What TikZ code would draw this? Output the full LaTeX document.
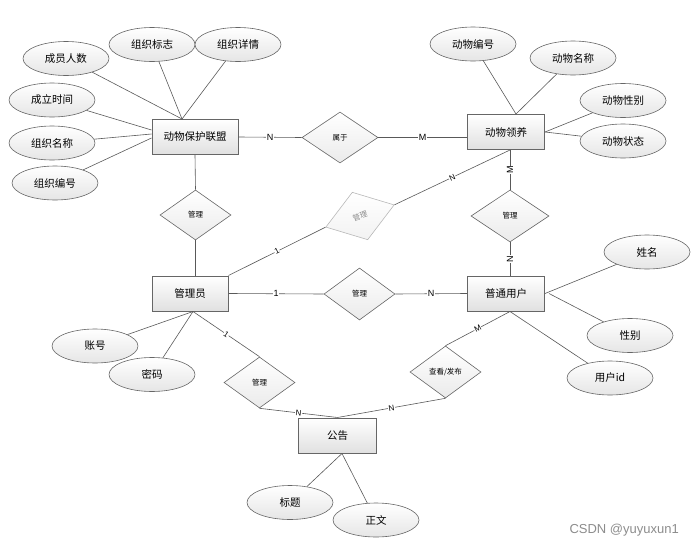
\documentclass[tikz,border=0pt]{standalone}
\usepackage{fontspec}
\newfontfamily\cjk{Noto Sans CJK SC}
\newfontfamily\wmfont{Liberation Sans}
\usetikzlibrary{shapes.geometric,calc}
\begin{document}
\begin{tikzpicture}[x=1pt,y=-1pt,
 ent/.style={draw=black!60, line width=1pt, top color=white, bottom color=black!12, minimum width=77pt, minimum height=35pt, inner sep=0pt, font=\cjk\fontsize{10.5}{12}\selectfont},
 attr/.style={ellipse, draw=black!60, line width=0.6pt, top color=white, bottom color=black!10, minimum width=86pt, minimum height=34pt, inner sep=0pt, font=\cjk\fontsize{10.5}{12}\selectfont},
 rel/.style={diamond, draw=black!60, line width=0.6pt, top color=white, bottom color=black!8, minimum width=72pt, minimum height=51pt, inner sep=0pt, font=\cjk\fontsize{7.5}{9}\selectfont},
 ln/.style={draw=black!65, line width=0.6pt},
 lab/.style={fill=white, inner sep=0.5pt, font=\wmfont\fontsize{9}{10}\selectfont},
 slab/.style={lab, sloped, font=\wmfont\fontsize{8}{9}\selectfont},
]
\useasboundingbox (0,0) rectangle (694,549);
% entities
\node[ent, minimum width=86pt] (U) at (195,137) {动物保护联盟};
\node[ent] (A) at (506,132) {动物领养};
\node[ent, minimum width=76pt] (M) at (190,293.5) {管理员};
\node[ent] (P) at (506,293.5) {普通用户};
\node[ent, minimum width=78pt] (G) at (337.5,435.5) {公告};
% attributes of union
\node[attr] (a1) at (66,58.5) {成员人数};
\node[attr] (a2) at (152,44.5) {组织标志};
\node[attr] (a3) at (238,44.5) {组织详情};
\node[attr] (a4) at (52,100) {成立时间};
\node[attr] (a5) at (52,143) {组织名称};
\node[attr] (a6) at (55,183) {组织编号};
% attributes of animal
\node[attr] (b1) at (473,44) {动物编号};
\node[attr] (b2) at (573,58) {动物名称};
\node[attr] (b3) at (623,100.5) {动物性别};
\node[attr] (b4) at (623,141) {动物状态};
% attributes of admin
\node[attr] (c1) at (95,346) {账号};
\node[attr] (c2) at (152,374.5) {密码};
% attributes of user
\node[attr] (d1) at (647,252) {姓名};
\node[attr] (d2) at (630,335.5) {性别};
\node[attr] (d3) at (610,378) {用户id};
% attributes of notice
\node[attr] (e1) at (290,502.5) {标题};
\node[attr] (e2) at (376,520) {正文};
% relations
\node[rel, minimum width=76pt] (R1) at (340,137.5) {属于};
\node[rel, minimum width=71pt, minimum height=50pt] (R2) at (195.5,215) {管理};
\node[rel, draw=black!28, top color=white, bottom color=black!5, text=black!45, rotate=18, minimum width=72pt, minimum height=50pt] (R3) at (360,216) {管理};
\node[rel, minimum width=78pt, minimum height=52pt] (R4) at (510,216) {管理};
\node[rel, minimum width=71pt, minimum height=52pt] (R5) at (359.5,294) {管理};
\node[rel, minimum width=71pt, minimum height=51pt] (R6) at (259.5,382.5) {管理};
\node[rel, minimum width=71pt, minimum height=52pt] (R7) at (445.5,372) {查看/发布};
% anchor points
\coordinate (ut) at ($(U.north)+(-13,0)$);
\coordinate (at) at ($(A.north)+(10,0)$);
\coordinate (ab) at ($(A.south)+(4,0)$);
\coordinate (pt) at ($(P.north)+(4,0)$);
\coordinate (pb) at ($(P.south)+(4,0)$);
\coordinate (mb) at ($(M.south)+(3,0)$);
\coordinate (gb) at ($(G.south)+(4.5,0)$);
% attribute connectors
\draw[ln] (a1) -- (ut);
\draw[ln] (a2) -- (ut);
\draw[ln] (a3) -- (ut);
\draw[ln] (a4) -- ($(U.west)+(0,-7)$);
\draw[ln] (a5) -- ($(U.west)+(0,-3)$);
\draw[ln] (a6) -- ($(U.west)+(0,1)$);
\draw[ln] (b1) -- (at);
\draw[ln] (b2) -- (at);
\draw[ln] (b3) -- (A.east);
\draw[ln] (b4) -- (A.east);
\draw[ln] (c1) -- (mb);
\draw[ln] (c2) -- (mb);
\draw[ln] (d1) -- (P.east);
\draw[ln] (d2) -- ($(P.east)+(4,0)$);
\draw[ln] (d3) -- (pb);
\draw[ln] (e1) -- (gb);
\draw[ln] (e2) -- (gb);
% relation connectors
\draw[ln] (U.east) -- node[lab]{N} (R1.west);
\draw[ln] (R1.east) -- node[lab]{M} (R1.east -| A.west);
\draw[ln] (U.south) -- (R2.north);
\draw[ln] (R2.south) -- (R2.south |- M.north);
\draw[ln] (M.north east) -- node[slab]{1} (R3.west);
\draw[ln] (R3.east) -- node[slab]{N} (ab);
\draw[ln] (ab) -- node[lab, rotate=90]{M} (R4.north);
\draw[ln] (R4.south) -- node[lab, rotate=90]{N} (pt);
\draw[ln] (M.east) -- node[lab]{1} (R5.west);
\draw[ln] (R5.east) -- node[lab]{N} (P.west);
\draw[ln] (mb) -- node[slab]{1} (R6.north);
\draw[ln] (R6.south) -- node[slab]{N} (G.north);
\draw[ln] (pb) -- node[slab]{M} (R7.north);
\draw[ln] (R7.south) -- node[slab]{N} (G.north);
% watermark
\node[font=\wmfont\fontsize{13}{15}\selectfont, text=black!45, anchor=east, inner sep=0pt] (wm) at (679,530) {CSDN @yuyuxun1};
\end{tikzpicture}
\end{document}
